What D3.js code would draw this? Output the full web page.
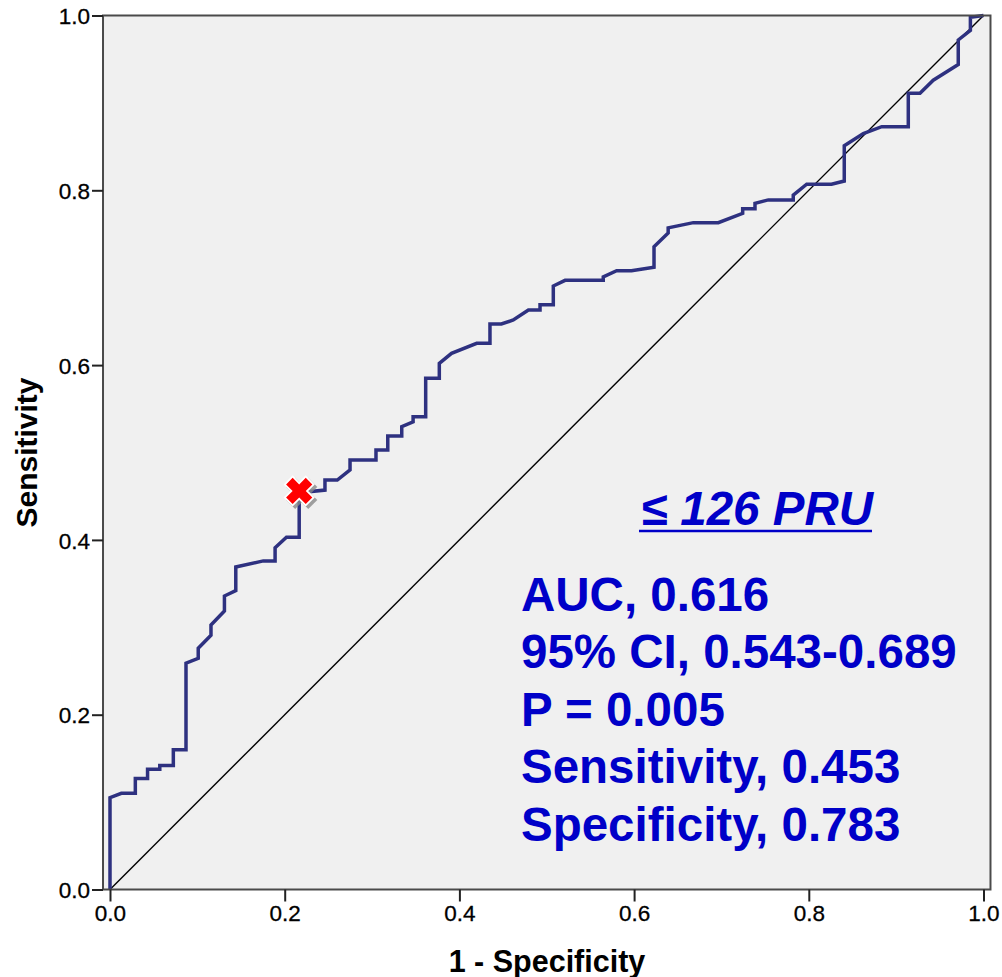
<!DOCTYPE html>
<html>
<head>
<meta charset="utf-8">
<script src="https://cdn.jsdelivr.net/npm/d3@7"></script>
<style>
  html, body { margin: 0; padding: 0; background: #ffffff; }
  svg { display: block; }
</style>
</head>
<body>
<svg id="chart" width="1002" height="977"></svg>
<script>
// ---- data ----
const fpr = [0.000, 0.000, 0.013, 0.029, 0.029, 0.043, 0.043, 0.057, 0.057, 0.0725, 0.0725, 0.087, 0.087,
  0.101, 0.101, 0.1156, 0.1156, 0.131, 0.131, 0.144, 0.144, 0.1755, 0.189, 0.189, 0.202, 0.2166, 0.2166,
  0.2461, 0.2461, 0.2602, 0.2748, 0.2748, 0.3045, 0.3045, 0.318, 0.318, 0.334, 0.334, 0.347, 0.347,
  0.3614, 0.3614, 0.377, 0.377, 0.391, 0.4198, 0.435, 0.435, 0.448, 0.4617, 0.479, 0.4923, 0.4923,
  0.5075, 0.5075, 0.521, 0.5647, 0.5647, 0.580, 0.597, 0.6228, 0.6228, 0.639, 0.639, 0.6678, 0.6964,
  0.7243, 0.7243, 0.7384, 0.7384, 0.7536, 0.7822, 0.7822, 0.7976, 0.826, 0.8406, 0.8406, 0.8624,
  0.8835, 0.9139, 0.9139, 0.9273, 0.9425, 0.9711, 0.9711, 0.985, 0.985, 1.000];
const tpr = [0.000, 0.105, 0.110, 0.110, 0.127, 0.127, 0.1375, 0.1375, 0.142, 0.142, 0.160, 0.160, 0.259,
  0.2645, 0.276, 0.291, 0.3026, 0.3186, 0.3358, 0.342, 0.369, 0.376, 0.376, 0.391, 0.403, 0.403, 0.454,
  0.457, 0.4685, 0.4685, 0.480, 0.4914, 0.4914, 0.503, 0.503, 0.519, 0.519, 0.5295, 0.535, 0.541,
  0.541, 0.585, 0.585, 0.602, 0.6135, 0.625, 0.625, 0.647, 0.647, 0.6516, 0.663, 0.663, 0.669,
  0.669, 0.6905, 0.697, 0.697, 0.701, 0.708, 0.708, 0.712, 0.7355, 0.751, 0.757, 0.763, 0.763,
  0.7737, 0.779, 0.779, 0.785, 0.789, 0.789, 0.7946, 0.807, 0.807, 0.8106, 0.851, 0.865,
  0.8728, 0.8728, 0.911, 0.911, 0.926, 0.944, 0.972, 0.983, 0.998, 1.000];
const cutoffPoint = [0.2166, 0.456];
const xTicks = [0.0, 0.2, 0.4, 0.6, 0.8, 1.0];
const yTicks = [0.0, 0.2, 0.4, 0.6, 0.8, 1.0];
const xTitle = "1 - Specificity";
const yTitle = "Sensitivity";
const boxTitle = "\u2264 126 PRU";
const statLines = ["AUC, 0.616", "95% CI, 0.543-0.689", "P = 0.005", "Sensitivity, 0.453", "Specificity, 0.783"];

// ---- layout ----
const svg = d3.select("#chart");
const x = d3.scaleLinear().domain([0, 1]).range([110, 983.5]);
const y = d3.scaleLinear().domain([0, 1]).range([889.5, 15.5]);
const FONT = "'Liberation Sans', Arial, Helvetica, sans-serif";

// plot background / frame
const fx0 = x(-0.008), fx1 = x(1.008);
svg.append("rect")
  .attr("x", fx0).attr("y", y(1)).attr("width", fx1 - fx0).attr("height", y(0) - y(1))
  .attr("fill", "#f0f0f0");

// diagonal reference
svg.append("line")
  .attr("x1", x(0)).attr("y1", y(0)).attr("x2", x(1)).attr("y2", y(1))
  .attr("stroke", "#000").attr("stroke-width", 1.4);

// ROC curve
const pts = fpr.map((v, i) => [v, tpr[i]]);
svg.append("path")
  .datum(pts)
  .attr("fill", "none")
  .attr("stroke", "#2e3180")
  .attr("stroke-width", 3.5)
  .attr("stroke-linejoin", "miter")
  .attr("d", d3.line().x(d => x(d[0])).y(d => y(d[1])));

// frame
svg.append("rect")
  .attr("x", fx0).attr("y", y(1)).attr("width", fx1 - fx0).attr("height", y(0) - y(1))
  .attr("fill", "none").attr("stroke", "#4a4a4a").attr("stroke-width", 2);

// axes
const xAxis = d3.axisBottom(x).tickValues(xTicks).tickFormat(d3.format(".1f")).tickSize(12).tickSizeOuter(0);
const gx = svg.append("g").attr("transform", `translate(0,${y(0)})`).call(xAxis);
gx.select(".domain").remove();
gx.selectAll(".tick line").attr("stroke", "#222").attr("stroke-width", 2);
gx.selectAll(".tick text").attr("font-family", FONT).attr("font-size", 22.5).attr("fill", "#000")
  .attr("stroke", "#000").attr("stroke-width", 0.3)
  .attr("y", 16).attr("dy", "0.71em");

const yAxis = d3.axisLeft(y).tickValues(yTicks).tickFormat(d3.format(".1f")).tickSize(11).tickSizeOuter(0);
const gy = svg.append("g").attr("transform", `translate(${fx0},0)`).call(yAxis);
gy.select(".domain").remove();
gy.selectAll(".tick line").attr("stroke", "#222").attr("stroke-width", 2);
gy.selectAll(".tick text").attr("font-family", FONT).attr("font-size", 22.5).attr("fill", "#000")
  .attr("stroke", "#000").attr("stroke-width", 0.3)
  .attr("x", -13).attr("dy", "0.36em");

// axis titles
svg.append("text")
  .attr("x", 547).attr("y", 972)
  .attr("text-anchor", "middle")
  .attr("font-family", FONT).attr("font-weight", "bold").attr("font-size", 30.5)
  .attr("fill", "#000").text(xTitle);
svg.append("text")
  .attr("transform", `translate(37,${(y(0) + y(1)) / 2}) rotate(-90)`)
  .attr("text-anchor", "middle")
  .attr("font-family", FONT).attr("font-weight", "bold").attr("font-size", 30)
  .attr("fill", "#000").text(yTitle);

// cut-off marker (red X with white outline and shadow)
const sym = d3.symbol().type(d3.symbolCross).size(430);
const mx = x(cutoffPoint[0]), my = y(cutoffPoint[1]);
svg.append("path").attr("d", sym())
  .attr("transform", `translate(${mx + 2.5},${my + 2.5}) rotate(45)`)
  .attr("fill", "#8a8a8a").attr("stroke", "#8a8a8a").attr("stroke-width", 3.5).attr("opacity", 0.8);
svg.append("path").attr("d", sym())
  .attr("transform", `translate(${mx},${my}) rotate(45)`)
  .attr("fill", "#ff0000").attr("stroke", "#ffffff").attr("stroke-width", 3.5).attr("stroke-linejoin", "miter")
  .attr("paint-order", "stroke");

// annotation text
const BLUE = "#0000c8";
const title = svg.append("text")
  .attr("x", 757).attr("y", 525)
  .attr("text-anchor", "middle")
  .attr("font-family", FONT).attr("font-weight", "bold").attr("font-style", "italic").attr("font-size", 47.5)
  .attr("fill", BLUE).text(boxTitle);
const tw = title.node().getComputedTextLength();
svg.append("line")
  .attr("x1", 757 - tw / 2 - 2).attr("x2", 757 + tw / 2 - 1)
  .attr("y1", 531).attr("y2", 531)
  .attr("stroke", BLUE).attr("stroke-width", 2.5);

svg.append("g").selectAll("text").data(statLines).join("text")
  .attr("x", 521).attr("y", (d, i) => 610.5 + i * 57.5)
  .attr("font-family", FONT).attr("font-weight", "bold").attr("font-size", 47.5)
  .attr("fill", BLUE).text(d => d);
</script>
</body>
</html>
